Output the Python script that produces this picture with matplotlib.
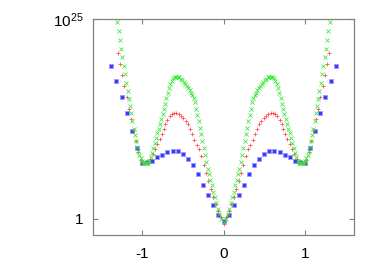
import numpy as np
import matplotlib
matplotlib.use("Agg")
import matplotlib.pyplot as plt

plt.rcParams['font.family'] = ['Liberation Sans', 'DejaVu Sans']
plt.rcParams['axes.unicode_minus'] = False
plt.rcParams['mathtext.default'] = 'regular'

# ---- data (exponents are log10 of the plotted value) ----
green_x = [-1.300, -1.284, -1.268, -1.254, -1.239, -1.223, -1.207, -1.191, -1.175, -1.159,
           -1.145, -1.130, -1.116, -1.101, -1.087, -1.073, -1.059, -1.045, -1.030, -1.015,
           -1.000, -0.985, -0.970, -0.955, -0.940, -0.925, -0.910, -0.893, -0.876, -0.859,
           -0.842, -0.826, -0.810, -0.794, -0.778, -0.762, -0.747, -0.732, -0.716, -0.700,
           -0.684, -0.668, -0.650, -0.632, -0.614, -0.596, -0.578, -0.560, -0.542, -0.524,
           -0.506, -0.488, -0.470, -0.452, -0.434, -0.416, -0.398, -0.382, -0.366, -0.350,
           -0.335, -0.320, -0.305, -0.290, -0.275, -0.260, -0.245, -0.230, -0.213, -0.196,
           -0.179, -0.162, -0.145, -0.128, -0.110, -0.091, -0.072, -0.052, -0.028, 0.000,
           0.028, 0.052, 0.072, 0.091, 0.110, 0.128, 0.145, 0.162, 0.179, 0.196,
           0.213, 0.230, 0.245, 0.260, 0.275, 0.290, 0.305, 0.320, 0.335, 0.350,
           0.366, 0.382, 0.398, 0.416, 0.434, 0.452, 0.470, 0.488, 0.506, 0.524,
           0.542, 0.560, 0.578, 0.596, 0.614, 0.632, 0.650, 0.668, 0.684, 0.700,
           0.716, 0.732, 0.747, 0.762, 0.778, 0.794, 0.810, 0.826, 0.842, 0.859,
           0.876, 0.893, 0.910, 0.925, 0.940, 0.955, 0.970, 0.985, 1.000, 1.015,
           1.030, 1.045, 1.059, 1.073, 1.087, 1.101, 1.116, 1.130, 1.145, 1.159,
           1.175, 1.191, 1.207, 1.223, 1.239, 1.254, 1.268, 1.284, 1.300]
green_exp = [24.6, 23.5, 22.4, 21.3, 20.25, 19.1, 18.1, 17.0, 16.0, 15.0,
             14.1, 13.2, 12.25, 11.3, 10.5, 9.8, 9.0, 8.45, 8.0, 7.6,
             7.3, 7.05, 7.0, 6.95, 7.0, 7.05, 7.3, 7.8, 8.3, 8.9,
             9.5, 10.1, 10.7, 11.3, 11.9, 12.5, 13.1, 13.7, 14.4, 15.1,
             15.8, 16.4, 16.9, 17.3, 17.6, 17.75, 17.8, 17.8, 17.7, 17.55,
             17.35, 17.15, 16.9, 16.65, 16.4, 16.1, 15.8, 15.45, 15.1, 14.6,
             13.7, 13.0, 12.3, 11.4, 10.6, 9.8, 8.9, 8.0, 7.1, 6.3,
             5.6, 4.9, 4.2, 3.4, 2.7, 2.0, 1.25, 0.6, 0.0, -0.35,
             0.0, 0.6, 1.25, 2.0, 2.7, 3.4, 4.2, 4.9, 5.6, 6.3,
             7.1, 8.0, 8.9, 9.8, 10.6, 11.4, 12.3, 13.0, 13.7, 14.6,
             15.1, 15.45, 15.8, 16.1, 16.4, 16.65, 16.9, 17.15, 17.35, 17.55,
             17.7, 17.8, 17.8, 17.75, 17.6, 17.3, 16.9, 16.4, 15.8, 15.1,
             14.4, 13.7, 13.1, 12.5, 11.9, 11.3, 10.7, 10.1, 9.5, 8.9,
             8.3, 7.8, 7.3, 7.05, 7.0, 6.95, 7.0, 7.05, 7.3, 7.6,
             8.0, 8.45, 9.0, 9.8, 10.5, 11.3, 12.25, 13.2, 14.1, 15.0,
             16.0, 17.0, 18.1, 19.1, 20.25, 21.3, 22.4, 23.5, 24.6]

red_x = [-1.296, -1.268, -1.240, -1.214, -1.187, -1.159, -1.130, -1.101, -1.073, -1.044,
         -1.015, -0.986, -0.957, -0.928, -0.899, -0.870, -0.841, -0.812, -0.783, -0.758,
         -0.735, -0.712, -0.688, -0.662, -0.634, -0.606, -0.577, -0.549, -0.520, -0.491,
         -0.463, -0.435, -0.408, -0.382, -0.356, -0.330, -0.302, -0.272, -0.245, -0.217,
         -0.188, -0.158, -0.128, -0.098, -0.068, -0.035, 0.000,
         0.035, 0.068, 0.098, 0.128, 0.158, 0.188, 0.217, 0.245, 0.272, 0.302,
         0.330, 0.356, 0.382, 0.408, 0.435, 0.463, 0.491, 0.520, 0.549, 0.577,
         0.606, 0.634, 0.662, 0.688, 0.712, 0.735, 0.758, 0.783, 0.812, 0.841,
         0.870, 0.899, 0.928, 0.957, 0.986, 1.015, 1.044, 1.073, 1.101, 1.130,
         1.159, 1.187, 1.214, 1.240, 1.268, 1.296]
red_exp = [20.7, 19.4, 18.0, 16.6, 15.2, 13.8, 12.5, 11.1, 9.8, 8.4,
           7.4, 7.05, 7.0, 7.05, 7.5, 8.1, 8.8, 9.4, 10.0, 10.6,
           11.3, 11.9, 12.4, 12.85, 13.1, 13.25, 13.25, 13.1, 12.9, 12.6,
           12.25, 11.85, 11.3, 10.6, 9.9, 9.3, 8.7, 7.9, 6.8, 5.8,
           4.8, 3.8, 2.8, 1.9, 1.0, 0.3, -0.6,
           0.3, 1.0, 1.9, 2.8, 3.8, 4.8, 5.8, 6.8, 7.9, 8.7,
           9.3, 9.9, 10.6, 11.3, 11.85, 12.25, 12.6, 12.9, 13.1, 13.25,
           13.25, 13.1, 12.85, 12.4, 11.9, 11.3, 10.6, 10.0, 9.4, 8.8,
           8.1, 7.5, 7.05, 7.0, 7.05, 7.4, 8.4, 9.8, 11.1, 12.5,
           13.8, 15.2, 16.6, 18.0, 19.4, 20.7]

blue_x = [-1.375, -1.3125, -1.25, -1.1875, -1.125, -1.0625, -1.0, -0.9375, -0.875, -0.8125,
          -0.75, -0.6875, -0.625, -0.5625, -0.5, -0.4375, -0.375, -0.3125, -0.25, -0.1875,
          -0.125, -0.0625, 0.0, 0.0625, 0.125, 0.1875, 0.25, 0.3125, 0.375, 0.4375,
          0.5, 0.5625, 0.625, 0.6875, 0.75, 0.8125, 0.875, 0.9375, 1.0, 1.0625,
          1.125, 1.1875, 1.25, 1.3125, 1.375]
blue_exp = [19.1, 17.3, 15.3, 13.2, 11.0, 8.9, 7.0, 7.1, 7.3, 7.7,
            8.0, 8.4, 8.55, 8.45, 8.1, 7.5, 6.7, 5.6, 4.3, 3.0,
            1.7, 0.5, -0.3, 0.5, 1.7, 3.0, 4.3, 5.6, 6.7, 7.5,
            8.1, 8.45, 8.55, 8.4, 8.0, 7.7, 7.3, 7.1, 7.0, 8.9,
            11.0, 13.2, 15.3, 17.3, 19.1]

x_ticks = [-1, 0, 1]
x_ticklabels = ['-1', '0', '1']
y_ticks = [1, 1e25]
y_ticklabels = ['1', '$10^{25}$']

# ---- figure ----
fig = plt.figure(figsize=(3.82, 2.67), dpi=100)
ax = fig.add_axes([93 / 382, 1 - 234.5 / 267, (354 - 93) / 382, (234.5 - 19) / 267])

ax.plot(blue_x, 10.0 ** np.array(blue_exp), linestyle='none', marker='s', ms=2.2,
        mfc='#3a3aff', mec='#9a9aff', mew=0.6)
ax.plot(red_x, 10.0 ** np.array(red_exp), linestyle='none', marker='+', ms=3.0,
        color='#ff4a4a', mew=0.55)
ax.plot(green_x, 10.0 ** np.array(green_exp), linestyle='none', marker='x', ms=2.8,
        color='#30e830', mew=0.55)

ax.set_yscale('log')
ax.set_xlim(-1.6, 1.6)
ax.set_ylim(10 ** -1.94, 1e25)
ax.set_xticks(x_ticks)
ax.set_xticklabels(x_ticklabels)
ax.set_yticks(y_ticks)
ax.set_yticklabels(y_ticklabels)
ax.yaxis.set_minor_locator(matplotlib.ticker.NullLocator())

for s in ax.spines.values():
    s.set_color('#808080')
    s.set_linewidth(0.9)
ax.tick_params(direction='in', length=3.5, width=0.8, color='#808080',
               top=True, right=True, labelsize=11, labelcolor='black')
ax.tick_params(axis='x', pad=9)
ax.tick_params(axis='y', pad=7)

fig.savefig('out.png', dpi=100)
